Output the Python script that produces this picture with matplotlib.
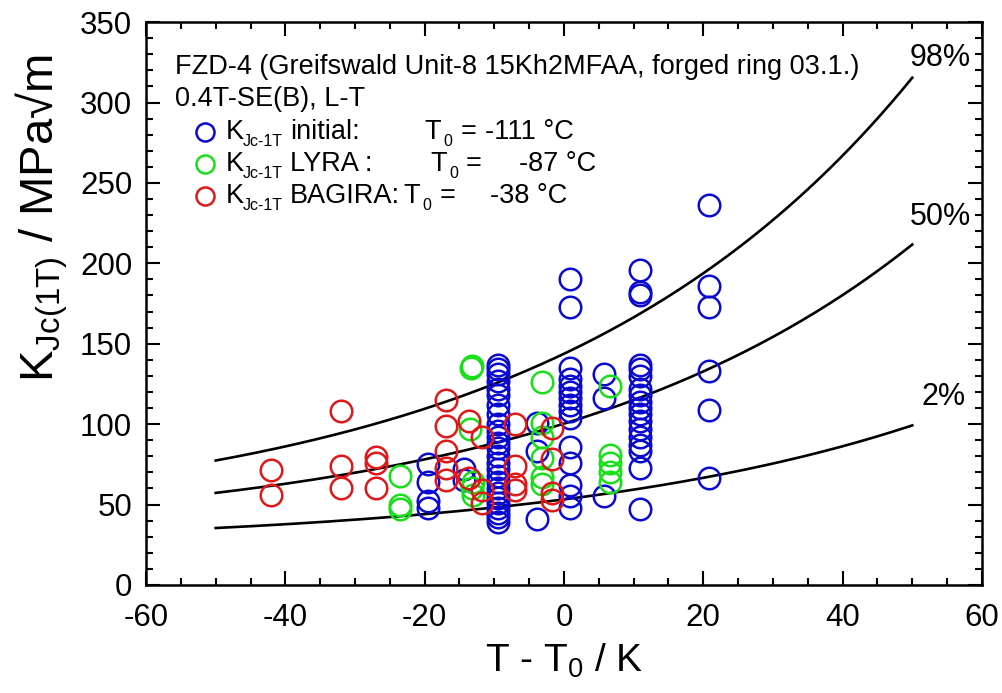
import numpy as np
import matplotlib
matplotlib.use("Agg")
import matplotlib.pyplot as plt
from matplotlib.ticker import MultipleLocator

plt.rcParams['font.family'] = ['Liberation Sans', 'DejaVu Sans']
plt.rcParams['mathtext.fontset'] = 'custom'
plt.rcParams['mathtext.rm'] = 'Liberation Sans'
plt.rcParams['mathtext.it'] = 'Liberation Sans'
plt.rcParams['axes.unicode_minus'] = False

# ---- data (T - T0 in K, KJc(1T) in MPa*sqrt(m)) ----
initial_dT = [20.8, 20.8, 20.8, 20.8, 20.8, 20.8,
              10.9, 10.9, 10.9, 10.9, 10.9, 10.9, 10.9, 10.9, 10.9, 10.9,
              10.9, 10.9, 10.9, 10.9, 10.9, 10.9, 10.9, 10.9,
              5.7, 5.7, 5.7,
              0.9, 0.9, 0.9, 0.9, 0.9, 0.9, 0.9, 0.9, 0.9, 0.9,
              0.9, 0.9, 0.9, 0.9, 0.9,
              -3.9, -3.9, -3.9,
              -9.5, -9.5, -9.5, -9.5, -9.5, -9.5, -9.5, -9.5, -9.5, -9.5,
              -9.5, -9.5, -9.5, -9.5, -9.5, -9.5, -9.5, -9.5, -9.5, -9.5,
              -9.5, -9.5, -9.5, -9.5, -9.5, -9.5,
              -14.4, -14.4,
              -19.5, -19.5, -19.5, -19.5]
initial_K = [236, 186, 173, 133, 109, 66.5,
             196, 182, 180, 137, 134, 130, 122, 118, 114, 110,
             106, 102, 97, 92, 87, 83, 73, 47,
             131, 116, 55,
             190, 173, 135, 128, 124, 120, 116, 112, 108, 104,
             86, 76, 62, 55, 48,
             101, 83, 41,
             137, 134, 131, 127, 122, 118, 112, 106, 100, 96,
             92, 88, 85, 80, 76, 72, 68, 64, 60, 57,
             54, 51, 48, 45, 42, 39,
             72, 65,
             75, 64, 52, 48]

lyra_dT = [-13.2, -13.4, -23.5, -23.5, -23.5, -13.5, -13.0, -13.2, -13.0,
           -3.2, -3.2, -3.2, -3.2, -3.2, -3.2,
           6.6, 6.6, 6.6, 6.6, 6.6]
lyra_K = [136, 135, 68, 50, 47, 97, 64, 60, 56,
          126, 101, 92, 79, 67, 63,
          124, 81, 76, 70, 64]

bagira_dT = [-42, -42, -32, -32, -32, -27, -27, -27,
             -17, -17, -17, -17, -17,
             -13.6, -11.8, -13.6, -11.8, -11.8,
             -7.0, -7.0, -7.0, -7.0,
             -1.7, -1.7, -1.7, -1.7]
bagira_K = [71.5, 56, 108, 74, 60, 79.5, 76, 60,
            115, 99, 83, 73, 65,
            102, 92, 66.5, 59, 51,
            100, 74, 63, 59,
            97.5, 78, 57, 53]

# master curve tolerance bounds (ASTM E1921)
bound_prob = [0.98, 0.50, 0.02]
bound_labels = ["98%", "50%", "2%"]
curve_dT = np.linspace(-50, 50, 201)

series_names = ["initial:", "LYRA :", "BAGIRA:"]
series_t0 = ["-111 °C", "-87 °C", "-38 °C"]
series_colors = ['#0a0ad2', '#18e018', '#e01818']

fig = plt.figure(figsize=(10.03, 6.93), dpi=100)
ax = fig.add_axes([0.1456, 0.156, 0.8334, 0.812])

for p in bound_prob:
    k = 20 + (np.log(1 / (1 - p))) ** 0.25 * (11 + 77 * np.exp(0.019 * curve_dT))
    ax.plot(curve_dT, k, color='black', lw=1.9, zorder=2)

mk = dict(marker='o', ms=15.5, mfc='none', mew=1.8, ls='none', zorder=3)
ax.plot(initial_dT, initial_K, mec=series_colors[0], **mk)
ax.plot(lyra_dT, lyra_K, mec=series_colors[1], **mk)
ax.plot(bagira_dT, bagira_K, mec=series_colors[2], **mk)

# curve labels
ax.text(54, 328, bound_labels[0], fontsize=22, ha='center', va='center')
ax.text(54, 229, bound_labels[1], fontsize=22, ha='center', va='center')
ax.text(54.5, 117, bound_labels[2], fontsize=22, ha='center', va='center')

# header text and legend-like block
fs = 19.5
sub = 11.5
ax.text(-55.8, 322, "FZD-4 (Greifswald Unit-8 15Kh2MFAA, forged ring 03.1.)",
        fontsize=fs, va='center')
ax.text(-55.8, 302, "0.4T-SE(B), L-T", fontsize=fs, va='center')

row_y = [282, 262, 242]
# x positions: T, subscript 0, "=", value
t0_x = [(-20.0, -17.3, -14.9, -11.3),
        (-19.2, -16.5, -14.1, -6.5),
        (-23.0, -20.3, -17.9, -10.6)]
for col, name, val, yy, (tx, zx, ex, vx) in zip(series_colors, series_names, series_t0, row_y, t0_x):
    ax.plot([-51.5], [yy], marker='o', ms=13, mfc='none', mew=1.8, mec=col)
    ax.text(-48.5, yy, "K", fontsize=fs, va='center')
    ax.text(-46.1, yy - 6, "Jc-1T", fontsize=sub, va='center')
    ax.text(-39.3, yy, name, fontsize=fs, va='center')
    ax.text(tx, yy, "T", fontsize=fs, va='center')
    ax.text(zx, yy - 6, "0", fontsize=sub, va='center')
    ax.text(ex, yy, "=", fontsize=fs, va='center')
    ax.text(vx, yy, val, fontsize=fs, va='center')

ax.set_xlim(-60, 60)
ax.set_ylim(0, 350)
ax.xaxis.set_major_locator(MultipleLocator(20))
ax.xaxis.set_minor_locator(MultipleLocator(5))
ax.yaxis.set_major_locator(MultipleLocator(50))
ax.yaxis.set_minor_locator(MultipleLocator(10))
ax.tick_params(which='both', direction='in', top=True, right=True, width=1.5)
ax.tick_params(which='major', length=10, labelsize=22.5)
ax.tick_params(axis='x', which='major', pad=13)
ax.tick_params(axis='y', which='major', pad=10)
ax.tick_params(which='minor', length=5)
for s in ax.spines.values():
    s.set_linewidth(1.8)

ax.set_xlabel(r"T - T$_0$ / K", fontsize=28, labelpad=6)
fig.text(0.042, 0.685, r"K$_{\mathrm{Jc(1T)}}$ / MPa√m", fontsize=34,
         rotation=90, ha='center', va='center')

fig.savefig("out.png", dpi=100)
